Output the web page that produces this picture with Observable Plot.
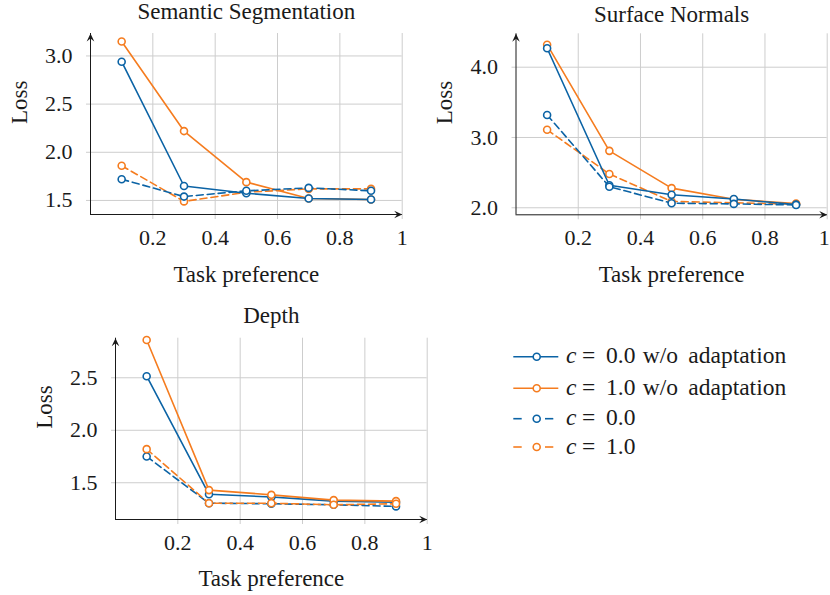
<!DOCTYPE html>
<html><head><meta charset="utf-8">
<script src="https://cdn.jsdelivr.net/npm/d3@7"></script>
<script src="https://cdn.jsdelivr.net/npm/@observablehq/plot@0.6"></script>
<style>
html,body{margin:0;padding:0;background:#fff;}
#root{position:relative;width:830px;height:595px;overflow:hidden;background:#fff;}
.panel{position:absolute;}
</style></head><body><div id="root"></div>
<script>
// ---------- data ----------
const taskPref = [0.1, 0.3, 0.5, 0.7, 0.9];
const xTicks = [0.2, 0.4, 0.6, 0.8, 1];
const xDomain = [0, 1];
const seriesLabels = ["0.0 w/o adaptation", "1.0 w/o adaptation", "0.0", "1.0"];

const segC0wo = [2.94, 1.65, 1.575, 1.52, 1.51];
const segC1wo = [3.15, 2.22, 1.69, 1.52, 1.51];
const segC0   = [1.72, 1.54, 1.60, 1.63, 1.60];
const segC1   = [1.86, 1.49, 1.585, 1.62, 1.62];
const segYTicks = [1.5, 2.0, 2.5, 3.0];
const segYDomain = [1.354, 3.233];

const nrmC0wo = [4.27, 2.32, 2.185, 2.125, 2.045];
const nrmC1wo = [4.32, 2.81, 2.28, 2.12, 2.06];
const nrmC0   = [3.32, 2.30, 2.065, 2.055, 2.04];
const nrmC1   = [3.11, 2.48, 2.09, 2.07, 2.05];
const nrmYTicks = [2.0, 3.0, 4.0];
const nrmYDomain = [1.90, 4.475];

const dptC0wo = [2.515, 1.39, 1.365, 1.325, 1.315];
const dptC1wo = [2.86, 1.43, 1.385, 1.335, 1.325];
const dptC0   = [1.75, 1.305, 1.30, 1.29, 1.275];
const dptC1   = [1.82, 1.305, 1.305, 1.29, 1.30];
const dptYTicks = [1.5, 2.0, 2.5];
const dptYDomain = [1.15, 2.877];

// ---------- styles ----------
const BLUE = "#0b63a5", ORANGE = "#f57c1f", INK = "#1a1a1a", GRID = "#cdcdcd";
const seriesColors = [BLUE, ORANGE, BLUE, ORANGE];
const seriesDash = [null, null, "7,4", "7,4"];
const FONT = "'Liberation Serif', serif";

const panels = [
  {title: "Semantic Segmentation", series: [segC0wo, segC1wo, segC0, segC1], yDomain: segYDomain, yTicks: segYTicks,
   order: [1, 3, 0, 2], left: 0, top: 0, width: 415, height: 290, mt: 33, mb: 76, ml: 90, mr: 13.3,
   titleDy: -14.7, xlabDy: 67.7, ylabDx: -63.3, lastTickDx: 0},
  {title: "Surface Normals", series: [nrmC0wo, nrmC1wo, nrmC0, nrmC1], yDomain: nrmYDomain, yTicks: nrmYTicks,
   order: [1, 3, 0, 2], left: 420, top: 0, width: 410, height: 290, mt: 33.3, mb: 75.7, ml: 95.5, mr: 3.3,
   titleDy: -11.6, xlabDy: 67.4, ylabDx: -64.3, lastTickDx: -3},
  {title: "Depth", series: [dptC0wo, dptC1wo, dptC0, dptC1], yDomain: dptYDomain, yTicks: dptYTicks,
   order: [0, 2, 1, 3], left: 0, top: 290, width: 440, height: 305, mt: 47.7, mb: 76, ml: 115, mr: 13.3,
   titleDy: -15.4, xlabDy: 66, ylabDx: -63.3, lastTickDx: 0}
];

// stealth arrow head symbol, tip at the origin, pointing right
const stealth = {
  draw(ctx, size) {
    const r = Math.sqrt(size / Math.PI);
    const L = 2 * r, W = 0.95 * r;
    ctx.moveTo(0, 0);
    ctx.lineTo(-L, -W);
    ctx.lineTo(-0.62 * L, 0);
    ctx.lineTo(-L, W);
    ctx.closePath();
  }
};

const fmtX = d => d === 1 ? "1" : d.toFixed(1);
const root = document.getElementById("root");

for (const p of panels) {
  const marks = [
    Plot.gridX(xTicks, {stroke: GRID, strokeOpacity: 1, strokeWidth: 1}),
    Plot.gridY(p.yTicks, {stroke: GRID, strokeOpacity: 1, strokeWidth: 1}),
    Plot.axisX(xTicks, {tickSize: 5, stroke: GRID, fill: "none", label: null}),
    Plot.axisX(xTicks.slice(0, -1), {tickSize: 0, tickPadding: 15, fill: INK, label: null,
      fontSize: 22, fontFamily: FONT, tickFormat: fmtX}),
    Plot.axisX(xTicks.slice(-1), {tickSize: 0, tickPadding: 15, fill: INK, label: null, dx: p.lastTickDx,
      fontSize: 22, fontFamily: FONT, tickFormat: fmtX}),
    Plot.axisY(p.yTicks, {tickSize: 4, tickPadding: 14, stroke: GRID, fill: INK, label: null,
      fontSize: 22, fontFamily: FONT, tickFormat: d => d.toFixed(1)}),
    Plot.ruleY([p.yDomain[0]], {stroke: INK, strokeWidth: 1}),
    Plot.ruleX([xDomain[0]], {stroke: INK, strokeWidth: 1}),
    Plot.dot([{x: xDomain[1], y: p.yDomain[0]}], {x: "x", y: "y", symbol: stealth, r: 4, fill: INK, stroke: "none"}),
    Plot.dot([{x: xDomain[0], y: p.yDomain[1]}], {x: "x", y: "y", symbol: stealth, r: 4, fill: INK, stroke: "none", rotate: -90})
  ];
  for (const si of p.order) {
    const d = taskPref.map((x, i) => ({x, y: p.series[si][i]}));
    marks.push(Plot.line(d, {x: "x", y: "y", stroke: seriesColors[si], strokeWidth: 1.6,
      strokeDasharray: seriesDash[si] || undefined}));
    marks.push(Plot.dot(d, {x: "x", y: "y", r: 3.5, stroke: seriesColors[si], strokeWidth: 1.6, fill: "white"}));
  }
  marks.push(
    Plot.text([p.title], {text: d => d, frameAnchor: "top", lineAnchor: "bottom", dy: p.titleDy, fontSize: 23, fontFamily: FONT, fill: INK}),
    Plot.text(["Task preference"], {text: d => d, frameAnchor: "bottom", lineAnchor: "bottom", dy: p.xlabDy, fontSize: 23, fontFamily: FONT, fill: INK}),
    Plot.text(["Loss"], {text: d => d, frameAnchor: "left", lineAnchor: "bottom", rotate: -90, dx: p.ylabDx, fontSize: 23, fontFamily: FONT, fill: INK})
  );
  const chart = Plot.plot({
    width: p.width, height: p.height,
    marginTop: p.mt, marginBottom: p.mb, marginLeft: p.ml, marginRight: p.mr,
    x: {domain: xDomain},
    y: {domain: p.yDomain},
    style: {fontFamily: FONT, fontSize: "22px", color: INK, background: "transparent", overflow: "visible", maxWidth: "none"},
    marks
  });
  const div = document.createElement("div");
  div.className = "panel";
  div.style.left = p.left + "px";
  div.style.top = p.top + "px";
  div.style.width = p.width + "px";
  div.appendChild(chart);
  root.appendChild(div);
}

// ---------- legend ----------
const legendRows = [356.7, 388.3, 418.7, 447];
const legend = d3.create("svg").attr("width", 830).attr("height", 595)
  .style("position", "absolute").style("left", "0px").style("top", "0px").style("overflow", "visible")
  .style("font-family", FONT).style("font-size", "23.5px");
seriesLabels.forEach((lab, i) => {
  const y = legendRows[i];
  const g = legend.append("g");
  if (seriesDash[i]) {
    g.append("line").attr("x1", 513.3).attr("x2", 521.7).attr("y1", y).attr("y2", y).attr("stroke", seriesColors[i]).attr("stroke-width", 1.6);
    g.append("line").attr("x1", 545).attr("x2", 553.3).attr("y1", y).attr("y2", y).attr("stroke", seriesColors[i]).attr("stroke-width", 1.6);
  } else {
    g.append("line").attr("x1", 513.3).attr("x2", 558.3).attr("y1", y).attr("y2", y).attr("stroke", seriesColors[i]).attr("stroke-width", 1.6);
  }
  g.append("circle").attr("cx", 536.7).attr("cy", y).attr("r", 3.5).attr("fill", "white").attr("stroke", seriesColors[i]).attr("stroke-width", 1.6);
  const t = g.append("text").attr("y", y + 6.7).attr("fill", INK);
  t.append("tspan").attr("x", 566).attr("font-style", "italic").text("c");
  t.append("tspan").attr("x", 582).text("=");
  const parts = lab.split(" ");
  t.append("tspan").attr("x", 606).text(parts[0]);
  if (parts.length > 1) {
    t.append("tspan").attr("x", 642.7).text(parts[1]);
    t.append("tspan").attr("x", 688.3).text(parts[2]);
  }
});
root.appendChild(legend.node());
</script>
</body></html>
